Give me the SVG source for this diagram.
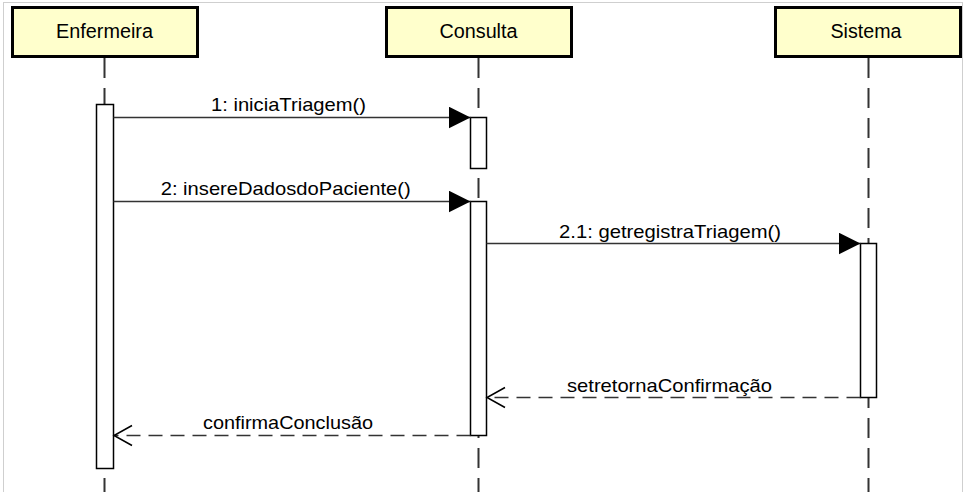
<svg xmlns="http://www.w3.org/2000/svg" width="967" height="492" viewBox="0 0 967 492">
<defs>
<style>
.head{fill:#FFFFCC;stroke:#000;stroke-width:3}
.htxt{font-family:"Liberation Sans",Arial,sans-serif;font-size:19.5px;fill:#000;text-anchor:middle}
.lbl{font-family:"Liberation Sans",Arial,sans-serif;font-size:18.5px;fill:#000;text-anchor:middle}
.life{stroke:#333;stroke-width:2;stroke-dasharray:20 10;fill:none}
.act{fill:#fff;stroke:#000;stroke-width:1.5}
.msg{stroke:#333;stroke-width:1.5;fill:none}
.ret{stroke:#333;stroke-width:1.5;fill:none;stroke-dasharray:14 8}
.open{fill:none;stroke:#000;stroke-width:1.5}
</style>
<marker id="filled" markerUnits="userSpaceOnUse" markerWidth="24" markerHeight="24" refX="22" refY="11" orient="auto">
<path d="M0,0 L22,11 L0,22 Z" fill="#000"/>
</marker>
</defs>
<rect x="0" y="0" width="967" height="492" fill="#fff"/>
<rect x="3.5" y="2.5" width="959" height="495" fill="none" stroke="#cfcfcf" stroke-width="1"/>

<g id="lifelines">
<line class="life" x1="104.5" y1="58" x2="104.5" y2="492"/>
<line class="life" x1="478.5" y1="58" x2="478.5" y2="492"/>
<line class="life" x1="868.5" y1="58" x2="868.5" y2="492"/>
</g>

<g id="Enfermeira">
<rect class="head" x="12.5" y="7.5" width="185" height="49"/>
<text class="htxt" x="104.5" y="38" textLength="97" lengthAdjust="spacingAndGlyphs">Enfermeira</text>
<rect class="act" x="96.5" y="104.5" width="17" height="364"/>
</g>

<g id="Consulta">
<rect class="head" x="386.5" y="7.5" width="185" height="49"/>
<text class="htxt" x="478.5" y="38" textLength="78" lengthAdjust="spacingAndGlyphs">Consulta</text>
<rect class="act" x="470.5" y="117.5" width="16" height="51"/>
<rect class="act" x="470.5" y="201.5" width="16" height="234"/>
</g>

<g id="Sistema">
<rect class="head" x="775.5" y="7.5" width="185" height="49"/>
<text class="htxt" x="866" y="38" textLength="71" lengthAdjust="spacingAndGlyphs">Sistema</text>
<rect class="act" x="860.5" y="243.5" width="16" height="154"/>
</g>

<g id="connectors">
<line class="msg" x1="113.5" y1="117.5" x2="470.5" y2="117.5" marker-end="url(#filled)"/>
<text class="lbl" x="288.5" y="111" textLength="155" lengthAdjust="spacingAndGlyphs">1: iniciaTriagem()</text>

<line class="msg" x1="113.5" y1="201.5" x2="470.5" y2="201.5" marker-end="url(#filled)"/>
<text class="lbl" x="285.7" y="195" textLength="250" lengthAdjust="spacingAndGlyphs">2: insereDadosdoPaciente()</text>

<line class="msg" x1="486.5" y1="243.5" x2="860.5" y2="243.5" marker-end="url(#filled)"/>
<text class="lbl" x="670" y="238" textLength="222" lengthAdjust="spacingAndGlyphs">2.1: getregistraTriagem()</text>

<line class="ret" x1="860.5" y1="397.5" x2="487" y2="397.5"/>
<path class="open" d="M505,387.5 L487,397.5 L505,407.5"/>
<text class="lbl" x="669.5" y="392" textLength="205" lengthAdjust="spacingAndGlyphs">setretornaConfirmação</text>

<line class="ret" x1="470.5" y1="435.5" x2="114" y2="435.5"/>
<path class="open" d="M132,425.5 L114,435.5 L132,445.5"/>
<text class="lbl" x="288" y="429" textLength="170" lengthAdjust="spacingAndGlyphs">confirmaConclusão</text>
</g>
</svg>
